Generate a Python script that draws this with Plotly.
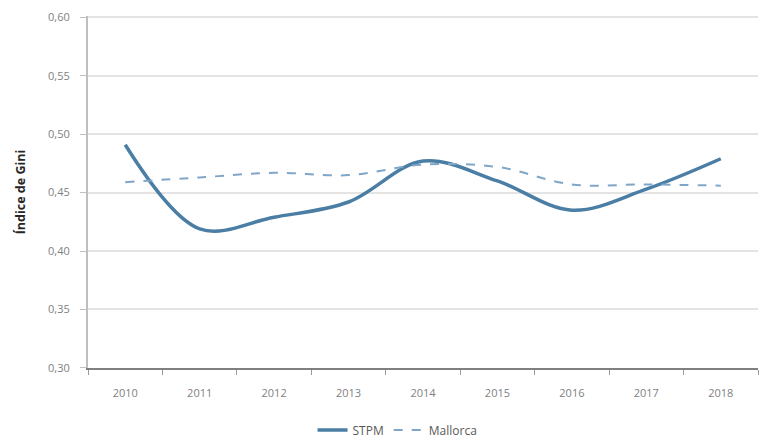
import plotly.graph_objects as go

years = ["2010", "2011", "2012", "2013", "2014", "2015", "2016", "2017", "2018"]
stpm = [0.491, 0.419, 0.429, 0.442, 0.477, 0.460, 0.435, 0.453, 0.479]
mallorca = [0.459, 0.463, 0.467, 0.465, 0.474, 0.472, 0.457, 0.457, 0.456]
y_ticks = [0.30, 0.35, 0.40, 0.45, 0.50, 0.55, 0.60]

fig = go.Figure()
fig.add_trace(go.Scatter(
    x=years, y=stpm, name="STPM", mode="lines",
    line=dict(color="#4A7EA5", width=3.5, shape="spline", smoothing=1.0),
))
fig.add_trace(go.Scatter(
    x=years, y=mallorca, name="Mallorca", mode="lines",
    line=dict(color="#7FA6C8", width=2, dash="dash", shape="spline", smoothing=1.0),
))

font_family = "Open Sans, Liberation Sans, sans-serif"
# the page body has an 8px margin, so the figure is sized to fit the 767x444 window
fig.update_layout(
    width=759, height=436,
    margin=dict(l=80, r=9, t=8, b=76, autoexpand=False),
    paper_bgcolor="white", plot_bgcolor="white",
    separators=", ",
    font=dict(family=font_family, size=10, color="#7f7f7f"),
    showlegend=True,
    legend=dict(orientation="h", x=0.462, xanchor="center", y=-0.176, yanchor="middle",
                font=dict(size=12, color="#595959"),
                traceorder="normal"),
    xaxis=dict(
        type="category", range=[-0.5, 8.5], automargin=False,
        showline=True, linecolor="#7f7f7f", linewidth=2,
        ticks="outside", tickson="boundaries", ticklen=5, tickcolor="#9a9a9a",
        showgrid=False, tickfont=dict(size=11, color="#7f7f7f"),
        ticklabelstandoff=14,
    ),
    yaxis=dict(
        range=[0.2999, 0.6012], tickvals=y_ticks, tickformat=".2f", automargin=False,
        showline=True, linecolor="#bfbfbf", linewidth=2,
        ticks="outside", ticklen=6, tickcolor="#bfbfbf",
        showgrid=True, gridcolor="#e4e4e4", gridwidth=1.5,
        zeroline=False, ticklabelstandoff=8, ticklabeloverflow="allow",
        tickfont=dict(size=11, color="#7f7f7f"),
        title=dict(text="Índice de Gini", font=dict(size=12.5, color="#262626", family=font_family, weight="bold"), standoff=20),
    ),
)

fig.write_html("out.html")
